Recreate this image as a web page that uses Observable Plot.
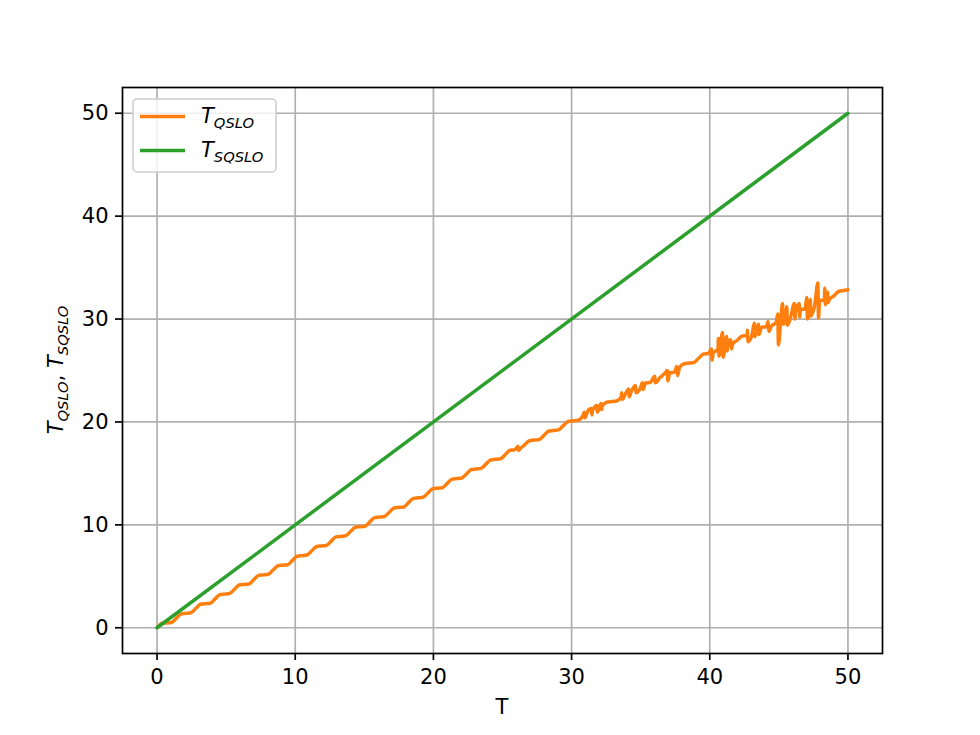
<!DOCTYPE html>
<html>
<head>
<meta charset="utf-8">
<script src="https://cdn.jsdelivr.net/npm/d3@7"></script>
<script src="https://cdn.jsdelivr.net/npm/@observablehq/plot@0.6"></script>
<style>
  html, body { margin: 0; padding: 0; background: white; }
  #chart { width: 980px; height: 735px; }
</style>
</head>
<body>
<div id="chart"></div>
<script>
// ---- data ----
const xTicks = [0, 10, 20, 30, 40, 50];
const yTicks = [0, 10, 20, 30, 40, 50];

// T_QSLO : smooth (wavy) part
const tQ = [0, 0.35, 0.7, 1.05, 1.4, 1.75, 2.1, 2.45, 2.8, 3.15, 3.5, 3.85, 4.2, 4.55, 4.9, 5.25, 5.6, 5.95, 6.3, 6.65,
  7, 7.35, 7.7, 8.05, 8.4, 8.75, 9.1, 9.45, 9.8, 10.15, 10.5, 10.85, 11.2, 11.55, 11.9, 12.25, 12.6, 12.95, 13.3, 13.65,
  14, 14.35, 14.7, 15.05, 15.4, 15.75, 16.1, 16.45, 16.8, 17.15, 17.5, 17.85, 18.2, 18.55, 18.9, 19.25, 19.6, 19.95, 20.3, 20.65,
  21, 21.35, 21.7, 22.05, 22.4, 22.75, 23.1, 23.45, 23.8, 24.15, 24.5, 24.85, 25.2, 25.55, 25.9, 26.25, 26.6, 26.95, 27.3, 27.65,
  28, 28.35, 28.7, 29.05, 29.4, 29.75, 30.1, 30.45, 30.8, 31.15, 31.5, 31.85, 32.2, 32.55, 32.9, 33.25, 33.6, 33.95, 34.3, 34.65,
  35, 35.35, 35.7, 36.05, 36.4, 36.75, 37.1, 37.45, 37.8, 38.15, 38.5, 38.85, 39.2, 39.55, 39.9, 40.25, 40.6, 40.95, 41.3, 41.65,
  42, 42.35, 42.7, 43.05, 43.4, 43.75, 44.1, 44.45, 44.8, 45.15, 45.5, 45.85, 46.2, 46.55, 46.9, 47.25, 47.6, 47.95, 48.3, 48.65,
  49, 49.35, 49.7, 50];
const yQ = [0, 0.41, 0.47, 0.52, 0.94, 1.35, 1.40, 1.46, 1.87, 2.28, 2.34, 2.39, 2.81, 3.22, 3.27, 3.33, 3.74, 4.16, 4.21, 4.26,
  4.68, 5.09, 5.14, 5.20, 5.61, 6.03, 6.08, 6.13, 6.55, 6.96, 7.01, 7.07, 7.48, 7.90, 7.95, 8.00, 8.42, 8.83, 8.88, 8.94,
  9.35, 9.77, 9.82, 9.87, 10.29, 10.70, 10.76, 10.81, 11.22, 11.64, 11.69, 11.74, 12.16, 12.57, 12.63, 12.68, 13.09, 13.51, 13.56, 13.61,
  14.03, 14.44, 14.50, 14.55, 14.96, 15.38, 15.43, 15.49, 15.90, 16.31, 16.37, 16.42, 16.83, 17.25, 17.30, 17.36, 17.77, 18.18, 18.24, 18.29,
  18.70, 19.12, 19.17, 19.23, 19.64, 20.05, 20.11, 20.16, 20.57, 20.99, 21.04, 21.10, 21.51, 21.92, 21.98, 22.03, 22.45, 22.86, 22.91, 22.97,
  23.38, 23.79, 23.85, 23.90, 24.32, 24.73, 24.78, 24.84, 25.25, 25.66, 25.72, 25.77, 26.19, 26.60, 26.65, 26.69, 27.09, 27.48, 27.52, 27.56,
  27.95, 28.35, 28.38, 28.42, 28.82, 29.21, 29.25, 29.29, 29.68, 30.08, 30.11, 30.15, 30.55, 30.94, 30.98, 31.02, 31.41, 31.81, 31.84, 31.88,
  32.28, 32.70, 32.78, 32.85];

// T_QSLO : noisy spikes
const spikeT = [26.12, 26.17, 30.92, 30.97, 31.42, 31.47, 31.82, 31.87, 32.12, 32.17,
  33.62, 33.67, 34.12, 34.17, 34.62, 34.67, 35.12, 35.17, 36.02, 36.07, 36.92, 36.97, 37.62, 37.67,
  40.12, 40.17, 40.62, 40.67, 40.92, 40.97, 41.22, 41.27, 41.52, 41.57, 42.72, 42.77,
  43.22, 43.27, 43.52, 43.57, 44.22, 44.27, 44.92, 44.97, 45.27, 45.32, 45.57, 45.62,
  46.12, 46.17, 46.47, 46.52, 47.02, 47.07, 47.27, 47.32, 47.82, 47.87, 48.32, 48.37, 48.52, 48.57];
const spikeY = [17.65, 17.25, 20.95, 20.4, 21.3, 20.7, 21.6, 20.95, 21.8, 21.2,
  22.85, 22.2, 23.2, 22.45, 23.55, 22.85, 23.8, 23.15, 24.45, 23.8, 25.0, 24.0, 25.4, 24.5,
  27.1, 26.0, 28.1, 26.4, 28.7, 26.3, 28.3, 26.9, 28.0, 27.1, 28.9, 27.8,
  29.6, 28.3, 29.5, 28.5, 29.75, 28.8, 30.5, 27.5, 31.5, 29.5, 31.2, 29.4,
  31.5, 30.0, 31.5, 30.2, 32.1, 30.0, 31.9, 30.3, 33.5, 30.1, 33.0, 31.4, 32.6, 31.6];

// T_SQSLO
const tS = [0, 50];
const yS = [0, 50];

const seriesNames = ["QSLO", "SQSLO"];
const seriesColors = ["#ff7f0e", "#2ca02c"];

// ---- tables ----
const qData = tQ.map((t, i) => ({t, v: yQ[i]}))
  .concat(spikeT.map((t, i) => ({t, v: spikeY[i]})))
  .sort((a, b) => a.t - b.t);
const sData = tS.map((t, i) => ({t, v: yS[i]}));

const W = 980, H = 735;
const mL = 122, mR = 98, mT = 87, mB = 82;
const LW = 3.5;

const svg = Plot.plot({
  width: W, height: H,
  marginLeft: mL, marginRight: mR, marginTop: mT, marginBottom: mB,
  style: {fontFamily: "DejaVu Sans", fontSize: "21px", background: "white", color: "black"},
  x: {domain: [-2.5, 52.5]},
  y: {domain: [-2.5, 52.5]},
  marks: [
    Plot.gridX(xTicks, {stroke: "#b0b0b0", strokeOpacity: 1, strokeWidth: 1.7}),
    Plot.gridY(yTicks, {stroke: "#b0b0b0", strokeOpacity: 1, strokeWidth: 1.7}),
    Plot.line(qData, {x: "t", y: "v", stroke: seriesColors[0], strokeWidth: LW, curve: "monotone-x"}),
    Plot.line(sData, {x: "t", y: "v", stroke: seriesColors[1], strokeWidth: LW}),
    Plot.frame({stroke: "black", strokeWidth: 1.7}),
    Plot.axisX({ticks: xTicks, tickSize: 7, tickPadding: 9, strokeWidth: 1.7, label: null, tickFormat: d => String(d)}),
    Plot.axisY({ticks: yTicks, tickSize: 7, tickPadding: 7, strokeWidth: 1.7, label: null, tickFormat: d => String(d)})
  ]
});
document.getElementById("chart").appendChild(svg);

const root = d3.select(svg);
const FS = 21, SUB = 14.7, SHIFT = 4.5;

function mathLabel(sel, parts) {
  parts.forEach((p, k) => {
    if (k > 0) sel.append("tspan").attr("font-style", "normal").attr("font-size", FS).attr("dy", -SHIFT).text(", ");
    sel.append("tspan").attr("font-style", "italic").attr("font-size", FS).text(p[0]);
    sel.append("tspan").attr("font-style", "italic").attr("font-size", SUB).attr("dy", SHIFT).text(p[1]);
  });
}

// x label
root.append("text")
  .attr("x", mL + (W - mL - mR) / 2).attr("y", 714)
  .attr("text-anchor", "middle").attr("font-family", "DejaVu Sans").attr("font-size", FS)
  .attr("fill", "black").text("T");

// y label
const yl = root.append("text")
  .attr("transform", `translate(63,${mT + (H - mT - mB) / 2}) rotate(-90)`)
  .attr("text-anchor", "middle").attr("font-family", "DejaVu Sans").attr("font-size", FS)
  .attr("fill", "black");
mathLabel(yl, [["T", seriesNames[0]], ["T", seriesNames[1]]]);

// legend
const lg = root.append("g").attr("font-family", "DejaVu Sans").attr("text-anchor", "start");
lg.append("rect").attr("x", 133).attr("y", 99).attr("width", 143).attr("height", 73).attr("rx", 4)
  .attr("fill", "white").attr("fill-opacity", 0.8).attr("stroke", "#cccccc").attr("stroke-width", 1.5);
seriesNames.forEach((name, k) => {
  const cy = 116.5 + k * 34;
  lg.append("line").attr("x1", 140).attr("x2", 185).attr("y1", cy).attr("y2", cy)
    .attr("stroke", seriesColors[k]).attr("stroke-width", LW);
  const tx = lg.append("text").attr("x", 201).attr("y", cy + 6.5).attr("font-size", FS)
    .attr("text-anchor", "start").attr("fill", "black");
  tx.append("tspan").attr("font-style", "italic").text("T");
  tx.append("tspan").attr("font-style", "italic").attr("font-size", SUB).attr("dy", SHIFT).text(name);
});
</script>
</body>
</html>
